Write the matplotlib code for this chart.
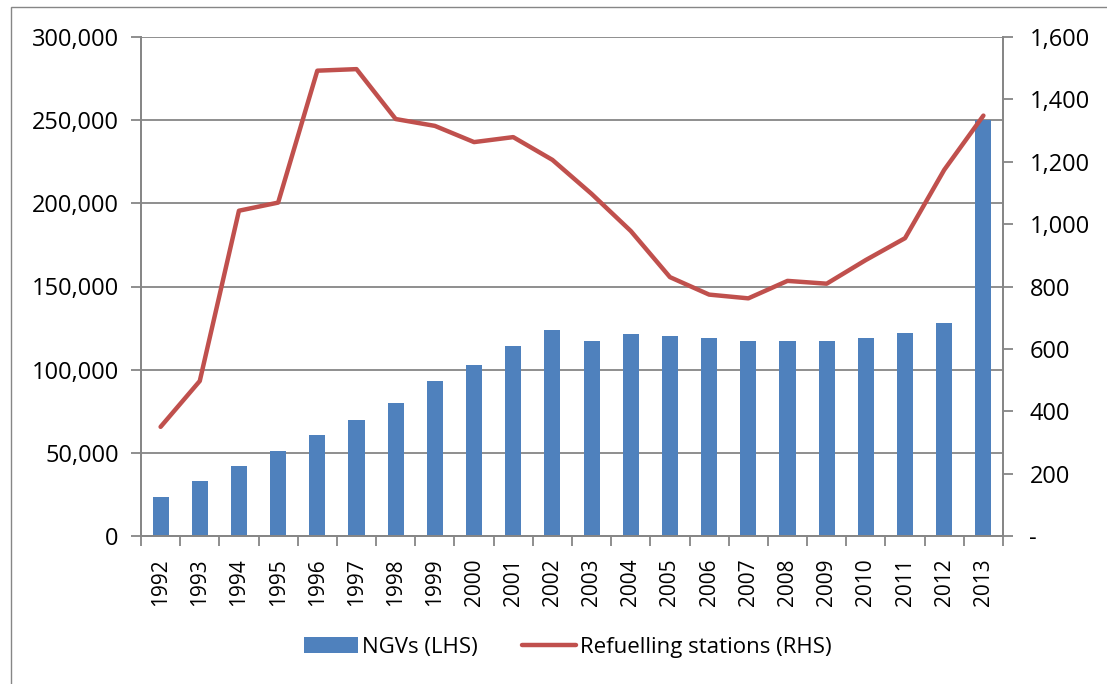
import matplotlib.pyplot as plt
from matplotlib.patches import Rectangle
from matplotlib.ticker import FuncFormatter, MultipleLocator

years = [str(y) for y in range(1992, 2014)]
ngvs = [23300, 33100, 41900, 50900, 60700, 69600, 80000, 93200, 102800, 114200,
        123800, 117200, 121400, 120200, 119000, 117200, 117000, 117400, 119000,
        121900, 127900, 250100]
stations = [350, 497, 1043, 1069, 1492, 1497, 1337, 1315, 1263, 1279, 1206,
            1097, 978, 830, 774, 762, 818, 809, 885, 955, 1174, 1348]

plt.rcParams['font.family'] = ['Open Sans', 'DejaVu Sans']
grey = '#868686'
blue = '#4F81BD'
red = '#C0504D'

fig = plt.figure(figsize=(11.07, 6.84), dpi=100)
ax = fig.add_axes([141 / 1107, 1 - 536 / 684, 862 / 1107, 499 / 684])
ax2 = ax.twinx()

x = list(range(len(years)))
ax.bar(x, ngvs, width=0.41, color=blue, zorder=2, label='NGVs (LHS)')
ax2.plot(x, stations, color=red, linewidth=3.2, solid_capstyle='round',
         label='Refuelling stations (RHS)')

ax.set_xlim(-0.5, len(years) - 0.5)
ax.set_ylim(0, 300000)
ax2.set_ylim(0, 1600)
ax.yaxis.set_major_locator(MultipleLocator(50000))
ax2.yaxis.set_major_locator(MultipleLocator(200))
ax.yaxis.set_major_formatter(FuncFormatter(lambda v, p: f"{int(v):,}"))
ax2.yaxis.set_major_formatter(FuncFormatter(lambda v, p: '-' if v == 0 else f"{int(v):,}"))
ax.grid(axis='y', color=grey, linewidth=1.3, zorder=0)
ax.set_axisbelow(True)

ax.set_xticks(x)
ax.set_xticklabels(years, rotation=90, fontsize=15)
ax.set_xticks([i - 0.5 for i in range(len(years) + 1)], minor=True)
ax.tick_params(axis='x', which='major', length=0, pad=16)
ax.tick_params(axis='x', which='minor', length=7, width=1.3, color=grey)
ax.tick_params(axis='y', length=7, width=1.3, color=grey, labelsize=17, pad=9)
ax2.tick_params(axis='y', length=7, width=1.3, color=grey, labelsize=17, pad=12)

for a in (ax, ax2):
    a.spines['top'].set_visible(False)
    for s in ('left', 'right', 'bottom'):
        a.spines[s].set_color(grey)
        a.spines[s].set_linewidth(1.3)

h1, l1 = ax.get_legend_handles_labels()
h2, l2 = ax2.get_legend_handles_labels()
fig.legend(h1 + h2, l1 + l2, loc='center', bbox_to_anchor=(0.513, 1 - 647 / 684),
           ncol=2, frameon=False, fontsize=16, handlelength=2.4, columnspacing=2.0,
           handletextpad=0.2)

# outer chart frame (left and top edges visible)
fig.patches.append(Rectangle((11 / 1107, -0.1), 1.2, 1 - 7 / 684 + 0.1,
                             transform=fig.transFigure, fill=False,
                             edgecolor=grey, linewidth=1.0))

fig.savefig('out.png', dpi=100)
